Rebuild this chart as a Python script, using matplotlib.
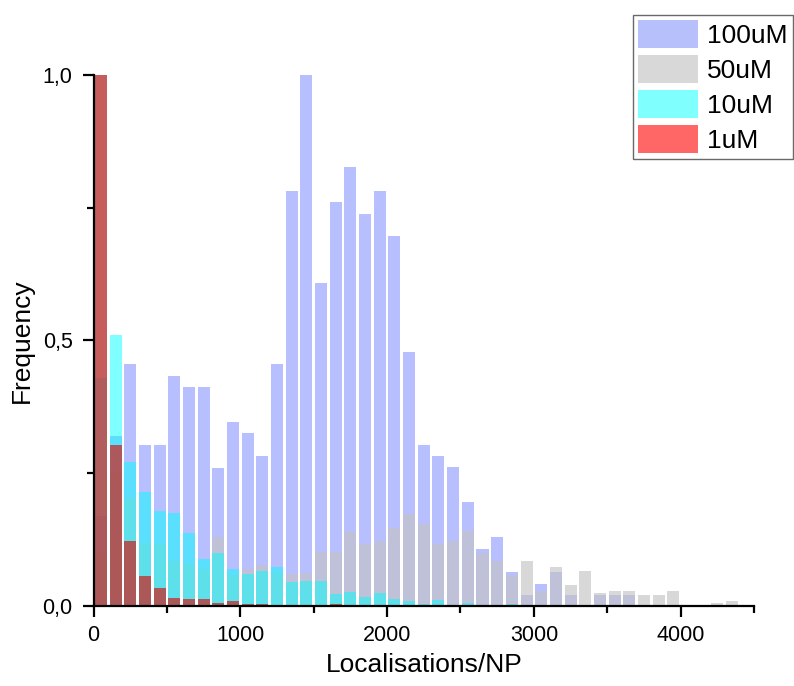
import matplotlib
matplotlib.use("Agg")
import matplotlib.pyplot as plt
import numpy as np
from matplotlib.patches import Patch
from matplotlib.ticker import MultipleLocator, FuncFormatter

plt.rcParams['font.family'] = ['Liberation Sans', 'DejaVu Sans']

# histogram bins, 100 localisations wide
bin_left = np.arange(0, 4500, 100)

# normalised frequencies
freq_100uM = [0.17, 0.32, 0.456, 0.303, 0.303, 0.434, 0.413, 0.412, 0.260, 0.347,
              0.326, 0.282, 0.456, 0.782, 1.0, 0.608, 0.761, 0.827, 0.739, 0.782,
              0.696, 0.478, 0.304, 0.283, 0.261, 0.195, 0.107, 0.130, 0.064, 0.021,
              0.041, 0.064, 0.021, 0.0, 0.021, 0.021, 0.021, 0.0, 0.0, 0.0,
              0.0, 0.0, 0.0, 0.0, 0.0]
freq_50uM = [0.10, 0.25, 0.203, 0.119, 0.117, 0.085, 0.080, 0.070, 0.130, 0.058,
             0.070, 0.077, 0.062, 0.060, 0.063, 0.101, 0.101, 0.140, 0.117, 0.123,
             0.146, 0.174, 0.155, 0.117, 0.122, 0.141, 0.100, 0.085, 0.059, 0.085,
             0.028, 0.073, 0.040, 0.066, 0.0245, 0.028, 0.028, 0.021, 0.021, 0.028,
             0.002, 0.002, 0.0056, 0.010, 0.002]
freq_10uM = [0.43, 0.51, 0.272, 0.215, 0.179, 0.175, 0.137, 0.088, 0.100, 0.070,
             0.061, 0.066, 0.073, 0.046, 0.047, 0.047, 0.022, 0.027, 0.017, 0.024,
             0.014, 0.010, 0.003, 0.012, 0.0, 0.006, 0.0, 0.0, 0.003, 0.0,
             0.0, 0.0, 0.0, 0.0, 0.0, 0.0, 0.0, 0.0, 0.0, 0.0,
             0.0, 0.0, 0.0, 0.0, 0.0]
freq_1uM = [1.0, 0.303, 0.122, 0.057, 0.033, 0.016, 0.013, 0.013, 0.005, 0.009,
            0.003, 0.003, 0.0, 0.0, 0.0, 0.0, 0.003, 0.0, 0.0, 0.0,
            0.0, 0.0, 0.0, 0.0, 0.0, 0.0, 0.0, 0.0, 0.0, 0.0,
            0.0, 0.0, 0.0, 0.0, 0.0, 0.0, 0.0, 0.0, 0.0, 0.0,
            0.0, 0.0, 0.0, 0.0, 0.0]

labels = ["100uM", "50uM", "10uM", "1uM"]

fig = plt.figure(figsize=(7.94, 6.86), dpi=100)
ax = fig.add_axes([0.1178, 0.1166, 0.8319, 0.7741])

centers = bin_left + 50
w = 82
ax.bar(centers, freq_100uM, width=w, color="#7080ff", alpha=0.5, linewidth=0)
ax.bar(centers, freq_50uM, width=w, color="#c3c3c3", alpha=0.65, linewidth=0)
ax.bar(centers, freq_10uM, width=w, color="#00ffff", alpha=0.5, linewidth=0)
ax.bar(centers, freq_1uM, width=w, color="#bb4040", alpha=0.85, linewidth=0)

ax.set_xlim(0, 4500)
ax.set_ylim(0, 1.0)

for s in ["top", "right"]:
    ax.spines[s].set_visible(False)
for s in ["left", "bottom"]:
    ax.spines[s].set_linewidth(1.6)

ax.xaxis.set_major_locator(MultipleLocator(1000))
ax.xaxis.set_minor_locator(MultipleLocator(500))
ax.yaxis.set_major_locator(MultipleLocator(0.5))
ax.yaxis.set_minor_locator(MultipleLocator(0.25))
ax.yaxis.set_major_formatter(FuncFormatter(lambda v, p: f"{v:.1f}".replace(".", ",")))
ax.tick_params(which="major", direction="out", length=8, width=1.6, labelsize=15.5)
ax.tick_params(which="minor", direction="out", length=5, width=1.6)
ax.tick_params(axis="x", pad=6)
ax.tick_params(axis="y", pad=7)

ax.set_xlabel("Localisations/NP", fontsize=19, labelpad=5)
ax.set_ylabel("Frequency", fontsize=19, labelpad=6)

handles = [Patch(facecolor=c, edgecolor="none") for c in ["#b8c0fc", "#d8d8d8", "#80ffff", "#ff6666"]]
leg = fig.legend(handles, labels, loc="upper left",
                 bbox_to_anchor=(633 / 794, 1 - 15 / 686),
                 fontsize=19, frameon=True, fancybox=False, handlelength=2.25, handleheight=1.25,
                 labelspacing=0.27, handletextpad=0.35, borderpad=0.2, borderaxespad=0)
leg.get_frame().set_edgecolor("#444444")
leg.get_frame().set_linewidth(1.0)

fig.savefig("out.png", dpi=100)
